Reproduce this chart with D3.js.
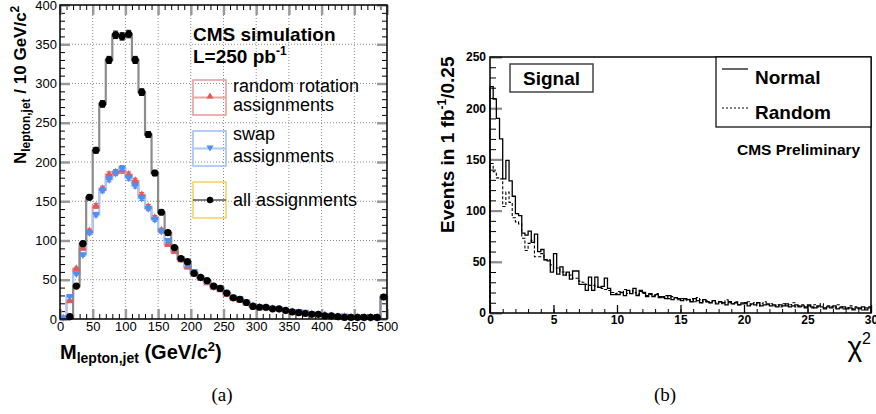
<!DOCTYPE html>
<html><head><meta charset="utf-8">
<script src="https://cdn.jsdelivr.net/npm/d3@7"></script>
<style>
body{margin:0;background:#fff}
svg{display:block}
text{fill:#000}
</style>
</head><body>
<svg id="c" width="876" height="414" font-family="Liberation Sans, Arial, Helvetica, sans-serif"></svg>
<script>
// ---------------- DATA ----------------
// Panel (a): M(lepton,jet), 10 GeV bins from 0 to 500
const massBinLow = d3.range(0, 500, 10);
const massBinWidth = 10;
const allAssign = [0,3,42,96,155,215,274,330,362,360,363,330,289,235,186,136,110,91,77,73,58,53,49,42,39,33,27,25,21,16,15,15,13,13,11,9,8,7,6,6,4,4,3,2,2,2,2,2,2,28];
const randomRotAssign = [1,23,64,90,112,144,166,184,187,189,184,176,158,143,129,113,95,86,75,66,58,52,46,40,37,31,26,24,20,17,15,14,13,12,10,9,8,7,6,5,5,4,3,3,2,2,2,2,2,27];
const swapAssign = [2,29,58,82,110,133,164,178,186,192,180,170,154,141,127,112,100,90,77,69,61,53,48,41,40,33,28,26,22,18,16,15,14,13,11,10,10,9,7,6,5,4,3,4,3,2,2,2,2,29];
const massTicks = [0,50,100,150,200,250,300,350,400,450,500];
const countTicksA = [0,50,100,150,200,250,300,350,400];

// Panel (b): chi2, bins of 0.25 from 0 to 30
const chiBinLow = d3.range(0, 30, 0.25);
const chiBinWidth = 0.25;
const normal = [221,209,190,170,131,149,129,114,97,95,
  78,76,80,69,77,60,62,52,51,40,
  58,38,45,37,40,33,41,41,28,28,
  22,35,22,35,25,26,34,24,18,18,
  18,20,17,22,19,24,17,22,20,16,
  19,16,18,15,16,14,17,13,15,14,
  12,14,13,11,14,12,10,13,11,10,
  12,9,11,10,8,11,9,10,8,9,
  10,7,9,8,10,7,8,9,7,8,
  6,8,7,9,6,7,8,6,7,5,
  8,6,5,7,6,4,6,5,7,4,
  5,6,4,5,3,5,4,6,3,5];
const random = [146,138,132,131,104,118,108,93,89,87,
  73,61,68,71,55,55,58,52,52,47,
  44,44,40,40,37,37,34,34,31,30,
  28,27,27,26,25,24,23,22,20,19,
  21,20,23,19,22,20,18,21,19,17,
  18,17,19,16,15,17,14,16,15,13,
  14,13,12,14,11,15,13,11,12,10,
  12,10,11,9,13,10,9,11,8,10,
  9,11,8,10,7,9,11,8,9,7,
  8,6,9,7,8,10,6,7,8,6,
  7,5,8,6,9,5,7,6,5,8,
  6,4,5,7,4,6,5,3,5,6];
const chiTicks = [0,5,10,15,20,25,30];
const countTicksB = [0,50,100,150,200,250];

// ---------------- HELPERS ----------------
const svg = d3.select("#c");
const SERIF = "Liberation Serif, 'Times New Roman', serif";

function stepPoints(low, width, vals){
  const pts = [[low[0], 0]];
  vals.forEach((v,i)=>pts.push([low[i], v]));
  pts.push([low[low.length-1] + width, 0]);
  return pts;
}
function styleAxis(g, col, w){
  g.select(".domain").remove();
  g.selectAll(".tick line").attr("stroke",col).attr("stroke-width",w);
}
function styleLabels(g, size, bold){
  g.selectAll("text").attr("font-size",size).attr("font-family",null)
    .attr("font-weight",bold?"bold":"normal").attr("fill","#000");
}

// ---------------- PANEL A ----------------
const A = {x0:60, x1:387, y0:319, y1:5};
const xa = d3.scaleLinear().domain([0,500]).range([A.x0, A.x1]);
const ya = d3.scaleLinear().domain([0,400]).range([A.y0, A.y1]);
const ga = svg.append("g");

// grid
const grid = ga.append("g").attr("stroke","#8a8a8a").attr("stroke-width",1).attr("stroke-dasharray","1,2");
grid.selectAll("line.gx").data(massTicks.slice(1,-1)).join("line")
  .attr("x1",d=>xa(d)).attr("x2",d=>xa(d)).attr("y1",A.y0).attr("y2",A.y1);
grid.selectAll("line.gy").data(countTicksA.slice(1,-1)).join("line")
  .attr("y1",d=>ya(d)).attr("y2",d=>ya(d)).attr("x1",A.x0).attr("x2",A.x1);

// minor ticks
const minorMass = d3.range(0, 501, 10);
const minorCountA = d3.range(0, 401, 10);
ga.append("g").attr("transform",`translate(0,${A.y0})`)
  .call(d3.axisBottom(xa).tickValues(minorMass).tickSize(-5).tickFormat(""))
  .call(g=>styleAxis(g,"#000",1));
ga.append("g").attr("transform",`translate(0,${A.y1})`)
  .call(d3.axisTop(xa).tickValues(minorMass).tickSize(-5).tickFormat(""))
  .call(g=>styleAxis(g,"#000",1));
ga.append("g").attr("transform",`translate(${A.x0},0)`)
  .call(d3.axisLeft(ya).tickValues(minorCountA).tickSize(-5).tickFormat(""))
  .call(g=>styleAxis(g,"#000",1));
ga.append("g").attr("transform",`translate(${A.x1},0)`)
  .call(d3.axisRight(ya).tickValues(minorCountA).tickSize(-5).tickFormat(""))
  .call(g=>styleAxis(g,"#000",1));
// major ticks (grey, thick)
ga.append("g").attr("transform",`translate(0,${A.y0})`)
  .call(d3.axisBottom(xa).tickValues(massTicks).tickSize(-10).tickPadding(3))
  .call(g=>{styleAxis(g,"#9a9a9a",2.5); styleLabels(g,13,false);});
ga.append("g").attr("transform",`translate(0,${A.y1})`)
  .call(d3.axisTop(xa).tickValues(massTicks).tickSize(-10).tickFormat(""))
  .call(g=>styleAxis(g,"#9a9a9a",2.5));
ga.append("g").attr("transform",`translate(${A.x0},0)`)
  .call(d3.axisLeft(ya).tickValues(countTicksA).tickSize(-10).tickPadding(3))
  .call(g=>{styleAxis(g,"#9a9a9a",2.5); styleLabels(g,13,false);});
ga.append("g").attr("transform",`translate(${A.x1},0)`)
  .call(d3.axisRight(ya).tickValues(countTicksA).tickSize(-10).tickFormat(""))
  .call(g=>styleAxis(g,"#9a9a9a",2.5));

// histograms
const lineA = d3.line().x(d=>xa(d[0])).y(d=>ya(d[1])).curve(d3.curveStepAfter);
const seriesA = [
  {vals:randomRotAssign, line:"#eba3a3", mark:"#e05a5a", type:"up"},
  {vals:swapAssign, line:"#a9c7f7", mark:"#4d8ff2", type:"down"},
  {vals:allAssign, line:"#8c8c8c", mark:"#000", type:"circle"}
];
seriesA.forEach(s=>{
  ga.append("path").attr("d", lineA(stepPoints(massBinLow, massBinWidth, s.vals)))
    .attr("fill","none").attr("stroke",s.line).attr("stroke-width",2.2);
});
seriesA.forEach(s=>{
  const g = ga.append("g");
  const pts = s.vals.map((v,i)=>({x:massBinLow[i], v})).filter(p=>p.v>0);
  const err = v=>Math.sqrt(v)/4;
  g.selectAll("line.h").data(pts).join("line")
    .attr("x1",p=>xa(p.x)).attr("x2",p=>xa(p.x+massBinWidth))
    .attr("y1",p=>ya(p.v)).attr("y2",p=>ya(p.v))
    .attr("stroke",s.mark).attr("stroke-width",1);
  g.selectAll("line.v").data(pts).join("line")
    .attr("x1",p=>xa(p.x+massBinWidth/2)).attr("x2",p=>xa(p.x+massBinWidth/2))
    .attr("y1",p=>ya(p.v+err(p.v))).attr("y2",p=>ya(p.v-err(p.v)))
    .attr("stroke",s.mark).attr("stroke-width",1);
  ["p","m"].forEach(sg=>{
    g.selectAll("line.c"+sg).data(pts).join("line")
      .attr("x1",p=>xa(p.x+massBinWidth/2)-2.5).attr("x2",p=>xa(p.x+massBinWidth/2)+2.5)
      .attr("y1",p=>ya(sg==="p"?p.v+err(p.v):p.v-err(p.v)))
      .attr("y2",p=>ya(sg==="p"?p.v+err(p.v):p.v-err(p.v)))
      .attr("stroke",s.mark).attr("stroke-width",1);
  });
  if(s.type==="circle"){
    g.selectAll("circle").data(pts).join("circle")
      .attr("cx",p=>xa(p.x+massBinWidth/2)).attr("cy",p=>ya(p.v)).attr("r",3.6).attr("fill","#000");
  } else {
    const sym = d3.symbol(d3.symbolTriangle, 26);
    g.selectAll("path").data(pts).join("path")
      .attr("d",sym)
      .attr("transform",p=>`translate(${xa(p.x+massBinWidth/2)},${ya(p.v)}) rotate(${s.type==="down"?180:0})`)
      .attr("fill",s.mark);
  }
});

// frame
ga.append("rect").attr("x",A.x0).attr("y",A.y1).attr("width",A.x1-A.x0).attr("height",A.y0-A.y1)
  .attr("fill","none").attr("stroke","#000").attr("stroke-width",1.5);

// texts & legend
ga.append("text").attr("x",193).attr("y",41).attr("font-size",19).attr("font-weight","bold").text("CMS simulation");
const lt = ga.append("text").attr("x",193).attr("y",63).attr("font-size",19).attr("font-weight","bold").text("L=250 pb");
lt.append("tspan").attr("dy",-8).attr("font-size",12).text("-1");

function legBox(y, h, col, lineCol, markCol, type){
  ga.append("rect").attr("x",193).attr("y",y).attr("width",33).attr("height",h)
    .attr("fill","none").attr("stroke",col).attr("stroke-width",1.5);
  const cy = y + h/2;
  ga.append("line").attr("x1",193).attr("x2",226).attr("y1",cy).attr("y2",cy).attr("stroke",lineCol).attr("stroke-width",type==="circle"?1:2);
  if(type==="circle") ga.append("circle").attr("cx",210).attr("cy",cy).attr("r",3.2).attr("fill",markCol);
  else ga.append("path").attr("d",d3.symbol(d3.symbolTriangle,22))
    .attr("transform",`translate(210,${cy-1}) rotate(${type==="down"?180:0})`).attr("fill",markCol);
}
legBox(80, 35, "#e39a9a", "#eba3a3", "#e05a5a", "up");
legBox(131, 35, "#9dbcf4", "#a9c7f7", "#4d8ff2", "down");
legBox(182, 36, "#f5d25a", "#000", "#000", "circle");
ga.append("text").attr("x",233).attr("y",92).attr("font-size",18).text("random rotation");
ga.append("text").attr("x",233).attr("y",111).attr("font-size",18).text("assignments");
ga.append("text").attr("x",233).attr("y",140).attr("font-size",18).text("swap");
ga.append("text").attr("x",233).attr("y",162).attr("font-size",18).text("assignments");
ga.append("text").attr("x",233).attr("y",206).attr("font-size",18).text("all assignments");

// axis titles
const ytA = ga.append("text").attr("transform","translate(26,164) rotate(-90)").attr("font-size",17).attr("font-weight","bold");
ytA.append("tspan").text("N");
ytA.append("tspan").attr("font-size",12).attr("dy",4).text("lepton,jet");
ytA.append("tspan").attr("dy",-4).text(" / 10 GeV/c");
ytA.append("tspan").attr("font-size",12).attr("dy",-7).text("2");
const xtA = ga.append("text").attr("x",60).attr("y",359).attr("font-size",20).attr("font-weight","bold");
xtA.append("tspan").text("M");
xtA.append("tspan").attr("font-size",14).attr("dy",4).text("lepton,jet");
xtA.append("tspan").attr("dy",-4).text(" (GeV/c");
xtA.append("tspan").attr("font-size",13).attr("dy",-8).text("2");
xtA.append("tspan").attr("dy",8).text(")");

svg.append("text").attr("x",222).attr("y",401).attr("text-anchor","middle")
  .attr("font-family",SERIF).attr("font-size",19).text("(a)");

// ---------------- PANEL B ----------------
const B = {x0:490, x1:871, y0:313, y1:57};
const xb = d3.scaleLinear().domain([0,30]).range([B.x0, B.x1]);
const yb = d3.scaleLinear().domain([0,250]).range([B.y0, B.y1]);
const gb = svg.append("g");

// ticks
gb.append("g").attr("transform",`translate(${B.x0},0)`)
  .call(d3.axisLeft(yb).tickValues(d3.range(0,251,10)).tickSize(-6).tickFormat(""))
  .call(g=>styleAxis(g,"#000",1));
gb.append("g").attr("transform",`translate(${B.x0},0)`)
  .call(d3.axisLeft(yb).tickValues(countTicksB).tickSize(-12).tickPadding(4))
  .call(g=>{styleAxis(g,"#8c8c8c",2.2); styleLabels(g,12,true);});
gb.append("g").attr("transform",`translate(0,${B.y0})`)
  .call(d3.axisBottom(xb).tickValues(d3.range(0,31,1)).tickSize(-4).tickFormat(""))
  .call(g=>styleAxis(g,"#000",1));
gb.append("g").attr("transform",`translate(0,${B.y0})`)
  .call(d3.axisBottom(xb).tickValues(chiTicks).tickSize(-8).tickPadding(2))
  .call(g=>{styleAxis(g,"#000",1.3); styleLabels(g,12,true);});

// histograms
const lineB = d3.line().x(d=>xb(d[0])).y(d=>yb(d[1])).curve(d3.curveStepAfter);
gb.append("path").attr("d", lineB(stepPoints(chiBinLow, chiBinWidth, random)))
  .attr("fill","none").attr("stroke","#000").attr("stroke-width",1.1).attr("stroke-dasharray","3,2");
gb.append("path").attr("d", lineB(stepPoints(chiBinLow, chiBinWidth, normal)))
  .attr("fill","none").attr("stroke","#000").attr("stroke-width",1.3);

// frame
gb.append("rect").attr("x",B.x0).attr("y",B.y1).attr("width",B.x1-B.x0).attr("height",B.y0-B.y1)
  .attr("fill","none").attr("stroke","#000").attr("stroke-width",1.5);

// signal box
gb.append("rect").attr("x",510).attr("y",64).attr("width",83).attr("height",28)
  .attr("fill","#fff").attr("stroke","#444").attr("stroke-width",1.5);
gb.append("text").attr("x",551.5).attr("y",85).attr("text-anchor","middle").attr("font-size",19).attr("font-weight","bold").text("Signal");

// legend
gb.append("rect").attr("x",716).attr("y",57).attr("width",155).attr("height",70)
  .attr("fill","#fff").attr("stroke","#000").attr("stroke-width",1.2);
gb.append("line").attr("x1",722).attr("x2",748).attr("y1",69).attr("y2",69).attr("stroke","#000").attr("stroke-width",1.2);
gb.append("line").attr("x1",722).attr("x2",748).attr("y1",108).attr("y2",108).attr("stroke","#000").attr("stroke-width",1.1).attr("stroke-dasharray","2,2");
gb.append("text").attr("x",755).attr("y",84).attr("font-size",19).attr("font-weight","bold").text("Normal");
gb.append("text").attr("x",755).attr("y",119).attr("font-size",19).attr("font-weight","bold").text("Random");
gb.append("text").attr("x",737).attr("y",155).attr("font-size",15.5).attr("font-weight","bold").text("CMS Preliminary");

// axis titles
const ytB = gb.append("text").attr("transform","translate(454,233) rotate(-90)").attr("font-size",19).attr("font-weight","bold");
ytB.append("tspan").text("Events in 1 fb");
ytB.append("tspan").attr("font-size",12).attr("dy",-8).text("-1");
ytB.append("tspan").attr("dy",8).text("/0.25");

const chi = gb.append("text").attr("x",871).attr("y",356).attr("text-anchor","end").attr("font-size",28);
chi.append("tspan").text("χ");
chi.append("tspan").attr("font-size",16).attr("dy",-12).text("2");

svg.append("text").attr("x",665).attr("y",401).attr("text-anchor","middle")
  .attr("font-family",SERIF).attr("font-size",19).text("(b)");
</script>
</body></html>
